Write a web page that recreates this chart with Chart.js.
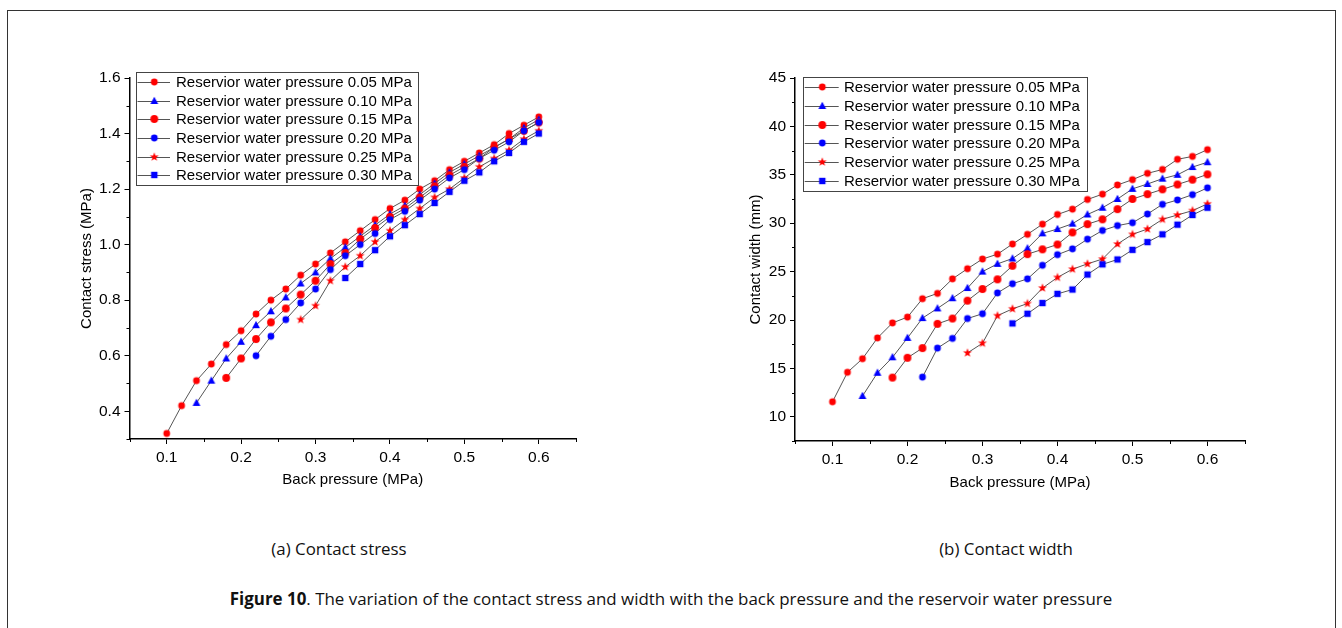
<!DOCTYPE html>
<html>
<head>
<meta charset="utf-8">
<script src="https://cdn.jsdelivr.net/npm/chart.js@4.4.0/dist/chart.umd.min.js"></script>
<style>
  html, body { margin: 0; padding: 0; background: #fff; }
  body { width: 1342px; height: 628px; position: relative; overflow: hidden; font-family: "Open Sans", sans-serif; }
  #frame { position: absolute; left: 7px; top: 10px; width: 1329px; height: 660px; border: 1px solid #333; box-sizing: border-box; }
  canvas { position: absolute; }
  #stressChart { left: 40px; top: 60px; }
  #widthChart { left: 700px; top: 60px; }
  .cap { position: absolute; white-space: nowrap; font-size: 17px; color: #111; transform-origin: center center; }
</style>
</head>
<body>
<div id="frame"></div>
<canvas id="stressChart" width="560" height="450"></canvas>
<canvas id="widthChart" width="570" height="450"></canvas>
<div class="cap" id="capA" data-cx="339" data-cy="548" data-w="135">(a) Contact stress</div>
<div class="cap" id="capB" data-cx="1006" data-cy="548" data-w="134">(b) Contact width</div>
<div class="cap" id="capFig" data-cx="671" data-cy="598" data-w="883"><b>Figure 10</b>. The variation of the contact stress and width with the back pressure and the reservoir water pressure</div>

<script>
// back pressure (MPa), every series ends at 0.60
const backPressure = [0.10, 0.12, 0.14, 0.16, 0.18, 0.20, 0.22, 0.24, 0.26, 0.28, 0.30, 0.32, 0.34,
                      0.36, 0.38, 0.40, 0.42, 0.44, 0.46, 0.48, 0.50, 0.52, 0.54, 0.56, 0.58, 0.60];

const seriesLabels = [
  'Reservior water pressure 0.05 MPa',
  'Reservior water pressure 0.10 MPa',
  'Reservior water pressure 0.15 MPa',
  'Reservior water pressure 0.20 MPa',
  'Reservior water pressure 0.25 MPa',
  'Reservior water pressure 0.30 MPa'
];

// (a) contact stress, MPa
const stress005 = [0.32, 0.42, 0.51, 0.57, 0.64, 0.69, 0.75, 0.80, 0.84, 0.89, 0.93, 0.97, 1.01,
                   1.05, 1.09, 1.13, 1.16, 1.20, 1.23, 1.27, 1.30, 1.33, 1.36, 1.40, 1.43, 1.46];
const stress010 = [0.43, 0.51, 0.59, 0.65, 0.71, 0.76, 0.81, 0.86, 0.90, 0.95, 0.99,
                   1.03, 1.07, 1.11, 1.14, 1.18, 1.22, 1.26, 1.29, 1.32, 1.35, 1.38, 1.42, 1.45];
const stress015 = [0.52, 0.59, 0.66, 0.72, 0.77, 0.82, 0.87, 0.93, 0.97,
                   1.02, 1.06, 1.10, 1.13, 1.17, 1.21, 1.25, 1.28, 1.31, 1.35, 1.38, 1.41, 1.44];
const stress020 = [0.60, 0.67, 0.73, 0.79, 0.84, 0.91, 0.96,
                   1.00, 1.04, 1.09, 1.12, 1.16, 1.20, 1.24, 1.27, 1.31, 1.34, 1.37, 1.41, 1.44];
const stress025 = [0.73, 0.78, 0.87, 0.92, 0.96, 1.01, 1.05, 1.09, 1.13, 1.17, 1.20, 1.24, 1.28,
                   1.31, 1.34, 1.38, 1.41];
const stress030 = [0.88, 0.93, 0.98, 1.03, 1.07, 1.11, 1.15, 1.19, 1.23, 1.26, 1.30, 1.33, 1.37, 1.40];

// (b) contact width, mm
const width005 = [11.55, 14.6, 16.0, 18.15, 19.7, 20.3, 22.2, 22.75, 24.25, 25.3, 26.3, 26.8, 27.85,
                  28.85, 29.9, 30.9, 31.45, 32.45, 33.0, 33.95, 34.5, 35.15, 35.55, 36.6, 36.9, 37.6];
const width010 = [12.15, 14.55, 16.15, 18.15, 20.2, 21.2, 22.25, 23.3, 25.0, 25.8, 26.35,
                  27.4, 28.95, 29.4, 29.95, 30.9, 31.6, 32.5, 33.55, 34.05, 34.6, 35.0, 35.8, 36.3];
const width015 = [14.05, 16.1, 17.1, 19.6, 20.15, 22.0, 23.2, 24.2, 25.6,
                  26.8, 27.3, 27.8, 29.05, 29.9, 30.4, 31.45, 32.5, 33.0, 33.5, 34.0, 34.5, 35.05];
const width020 = [14.1, 17.1, 18.1, 20.15, 20.65, 22.8, 23.75,
                  24.25, 25.65, 26.75, 27.35, 28.35, 29.25, 29.75, 30.05, 30.95, 31.95, 32.4, 32.95, 33.65];
const width025 = [16.6, 17.6, 20.45, 21.15, 21.7, 23.3, 24.4, 25.25, 25.8, 26.3, 27.85, 28.85, 29.4,
                  30.4, 30.85, 31.3, 32.0];
const width030 = [19.65, 20.65, 21.75, 22.7, 23.15, 24.7, 25.75, 26.25, 27.25, 28.05, 28.85, 29.85, 30.85, 31.6];

// ticks
const xTicks = [0.1, 0.2, 0.3, 0.4, 0.5, 0.6];
const xMinorTicks = [0.05, 0.15, 0.25, 0.35, 0.45, 0.55, 0.65];
const stressTicks = [0.4, 0.6, 0.8, 1.0, 1.2, 1.4, 1.6];
const stressMinorTicks = [0.3, 0.5, 0.7, 0.9, 1.1, 1.3, 1.5];
const widthTicks = [10, 15, 20, 25, 30, 35, 40, 45];
const widthMinorTicks = [7.5, 12.5, 17.5, 22.5, 27.5, 32.5, 37.5, 42.5];

// marker look per series
const markerShapes = ['circle', 'triangle', 'bigcircle', 'circle', 'star', 'square'];
const markerColors = ['#ff0000', '#0000ff', '#ff0000', '#0000ff', '#ff0000', '#0000ff'];

function makeMarker(shape, color) {
  const s = 12;
  const c = document.createElement('canvas');
  c.width = s; c.height = s;
  const g = c.getContext('2d');
  g.fillStyle = color;
  g.translate(s / 2, s / 2);
  g.beginPath();
  if (shape === 'circle') {
    g.arc(0, 0, 3.4, 0, Math.PI * 2);
  } else if (shape === 'bigcircle') {
    g.arc(0, 0, 3.9, 0, Math.PI * 2);
  } else if (shape === 'triangle') {
    g.moveTo(0, -4.2); g.lineTo(3.9, 3); g.lineTo(-3.9, 3); g.closePath();
  } else if (shape === 'square') {
    g.rect(-3.2, -3.2, 6.4, 6.4);
  } else if (shape === 'star') {
    for (let i = 0; i < 10; i++) {
      const r = i % 2 ? 1.9 : 4.7;
      const a = -Math.PI / 2 + i * Math.PI / 5;
      g.lineTo(r * Math.cos(a), r * Math.sin(a));
    }
    g.closePath();
  }
  g.fill();
  return c;
}
const markers = markerShapes.map((s, i) => makeMarker(s, markerColors[i]));

function toPoints(values) {
  const start = backPressure.length - values.length;
  return values.map((v, i) => ({ x: backPressure[start + i], y: v }));
}

function buildDatasets(seriesList) {
  return seriesList.map((values, i) => ({
    label: seriesLabels[i],
    data: toPoints(values),
    borderColor: '#555',
    borderWidth: 1,
    pointStyle: markers[i],
    pointRadius: 4,
    fill: false,
    tension: 0,
    order: seriesList.length - i   // later series drawn on top
  }));
}

// small outward minor ticks
const minorTicksPlugin = {
  id: 'minorTicks',
  afterDraw(chart, args, opts) {
    const { ctx, chartArea, scales } = chart;
    ctx.save();
    ctx.strokeStyle = '#000';
    ctx.lineWidth = 1;
    ctx.beginPath();
    opts.x.forEach(v => {
      const px = Math.round(scales.x.getPixelForValue(v)) + 0.5;
      ctx.moveTo(px, chartArea.bottom);
      ctx.lineTo(px, chartArea.bottom + 3);
    });
    opts.y.forEach(v => {
      const py = Math.round(scales.y.getPixelForValue(v)) + 0.5;
      ctx.moveTo(chartArea.left, py);
      ctx.lineTo(chartArea.left - 3, py);
    });
    ctx.stroke();
    ctx.restore();
  }
};

// Origin style boxed legend inside the plot
const boxLegendPlugin = {
  id: 'boxLegend',
  afterDraw(chart, args, o) {
    const { ctx, chartArea } = chart;
    const x0 = Math.round(chartArea.left + o.dx), y0 = Math.round(chartArea.top + o.dy);
    ctx.save();
    ctx.fillStyle = '#fff';
    ctx.fillRect(x0, y0, o.width, o.height);
    ctx.strokeStyle = '#444';
    ctx.lineWidth = 1;
    ctx.strokeRect(x0 + 0.5, y0 + 0.5, o.width, o.height);
    ctx.font = '15px "Liberation Sans", Arial, sans-serif';
    ctx.textBaseline = 'middle';
    chart.data.datasets.forEach((ds, i) => {
      const y = Math.round(y0 + o.firstRow + i * o.rowGap) + 0.5;
      ctx.strokeStyle = ds.borderColor;
      ctx.beginPath();
      ctx.moveTo(x0 + o.lineFrom, y);
      ctx.lineTo(x0 + o.lineTo, y);
      ctx.stroke();
      ctx.drawImage(ds.pointStyle, x0 + o.markerAt - 6, y - 6.5);
      ctx.fillStyle = '#000';
      ctx.fillText(ds.label, x0 + o.textAt, y);
    });
    ctx.restore();
  }
};

Chart.defaults.font.family = '"Liberation Sans", Arial, sans-serif';
Chart.defaults.font.size = 15;
Chart.defaults.color = '#000';

function makeChart(canvasId, seriesList, cfg) {
  new Chart(document.getElementById(canvasId), {
    type: 'line',
    data: { datasets: buildDatasets(seriesList) },
    options: {
      responsive: false,
      animation: false,
      events: [],
      layout: { padding: { top: 18, right: cfg.padRight, left: 0, bottom: 0 } },
      scales: {
        x: {
          type: 'linear',
          min: 0.05, max: 0.65,
          afterBuildTicks: s => { s.ticks = xTicks.map(v => ({ value: v })); },
          afterFit: s => { s.height = cfg.xAxisHeight; },
          ticks: { padding: 4, font: { size: 15.5 }, callback: v => v.toFixed(1) },
          grid: { drawOnChartArea: false, tickLength: 5, tickColor: '#000', tickWidth: 1 },
          border: { color: '#000', width: 1.5 },
          title: { display: true, text: 'Back pressure (MPa)', padding: { top: 0, bottom: cfg.xTitlePad } }
        },
        y: {
          type: 'linear',
          min: cfg.yMin, max: cfg.yMax,
          afterBuildTicks: s => { s.ticks = cfg.yTicks.map(v => ({ value: v })); },
          afterFit: s => { s.width = cfg.yAxisWidth; },
          ticks: { padding: 4, font: { size: 15.5 }, callback: cfg.yFormat },
          grid: { drawOnChartArea: false, tickLength: 5, tickColor: '#000', tickWidth: 1 },
          border: { color: '#000', width: 1.5 },
          title: { display: true, text: cfg.yTitle, padding: { top: cfg.yTitlePad, bottom: 0 } }
        }
      },
      plugins: {
        legend: { display: false },
        tooltip: { enabled: false },
        minorTicks: { x: xMinorTicks, y: cfg.yMinor },
        boxLegend: cfg.legend
      }
    },
    plugins: [minorTicksPlugin, boxLegendPlugin]
  });
}

makeChart('stressChart',
  [stress005, stress010, stress015, stress020, stress025, stress030],
  {
    padRight: 24, xAxisHeight: 71, yAxisWidth: 89.5, xTitlePad: 21, yTitlePad: 38,
    yMin: 0.3, yMax: 1.6, yTicks: stressTicks, yMinor: stressMinorTicks,
    yFormat: v => v.toFixed(1), yTitle: 'Contact stress (MPa)',
    legend: { dx: 6.5, dy: -6, width: 282, height: 113, firstRow: 10.3, rowGap: 18.55,
              lineFrom: 1.5, lineTo: 34, markerAt: 18.3, textAt: 40 }
  });

makeChart('widthChart',
  [width005, width010, width015, width020, width025, width030],
  {
    padRight: 25, xAxisHeight: 69, yAxisWidth: 95, xTitlePad: 18, yTitlePad: 47,
    yMin: 7.5, yMax: 45, yTicks: widthTicks, yMinor: widthMinorTicks,
    yFormat: v => String(v), yTitle: 'Contact width (mm)',
    legend: { dx: 8, dy: -1, width: 284, height: 114, firstRow: 10.3, rowGap: 18.7,
              lineFrom: 1.7, lineTo: 35.7, markerAt: 19.3, textAt: 41 }
  });

// captions: centre them and fit to the widths seen in the figure
function placeCaptions() {
  document.querySelectorAll('.cap').forEach(el => {
    const w = el.offsetWidth;
    const k = parseFloat(el.dataset.w) / w;
    el.style.left = el.dataset.cx + 'px';
    el.style.top = el.dataset.cy + 'px';
    el.style.transform = 'translate(-50%, -50%) scaleX(' + k.toFixed(3) + ')';
  });
}
if (document.fonts && document.fonts.ready) document.fonts.ready.then(placeCaptions); else placeCaptions();
</script>
</body>
</html>
